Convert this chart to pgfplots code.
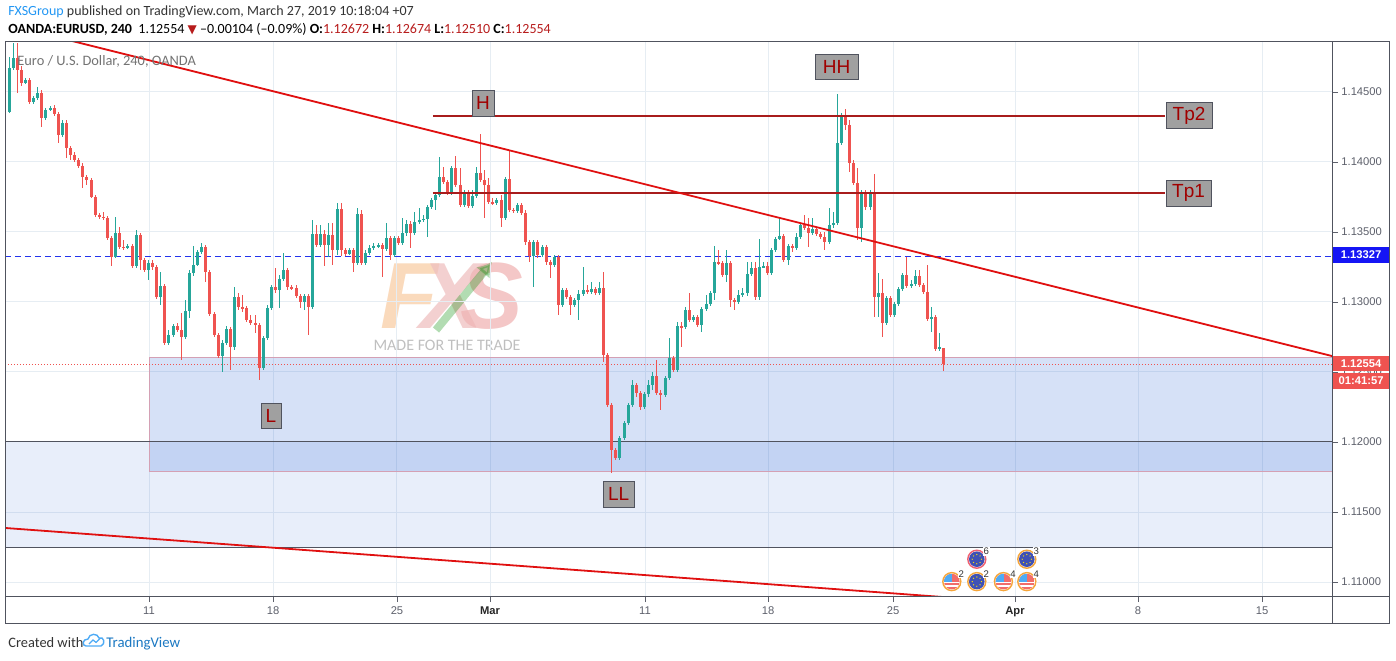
\documentclass[border=0pt]{standalone}
\usepackage{fontspec}
\setmainfont{Liberation Sans}
\newfontfamily\hdr{Carlito}
\newfontfamily\sym{DejaVu Sans}
\usepackage{pgfplots}
\usepackage{pgfplotstable}
\pgfplotsset{compat=1.18}
\usetikzlibrary{calc,arrows.meta}
\definecolor{upc}{HTML}{26A69A}
\definecolor{dnc}{HTML}{EF5350}
\definecolor{gridc}{HTML}{E6EDF3}
\definecolor{framec}{HTML}{50535E}
\definecolor{tickc}{HTML}{5D606B}
\definecolor{zonec}{HTML}{1B58D2}
\definecolor{zoneb}{HTML}{D4A0B4}
\definecolor{trendc}{HTML}{E01010}
\definecolor{tpc}{HTML}{A81C1C}
\definecolor{bluel}{HTML}{2233EE}
\definecolor{boxfill}{HTML}{A0A0A0}
\definecolor{boxtext}{HTML}{A00000}
\definecolor{hdrblue}{HTML}{2196F3}
\definecolor{valred}{HTML}{B71C1C}
\definecolor{hdrgray}{HTML}{333333}
\definecolor{lblblue}{HTML}{1515F5}
\definecolor{ringo}{HTML}{F5A53A}
\definecolor{ringr}{HTML}{F06070}
\definecolor{eublue}{HTML}{3F51B5}
\definecolor{wmF}{HTML}{F8CDA6}
\definecolor{wmS}{HTML}{F0B4B4}
\definecolor{wmX}{HTML}{EFC0C0}

\pgfplotstableread{
k o h l c
1 1.14357 1.14750 1.14350 1.14671
2 1.14671 1.14850 1.14657 1.14743
3 1.14743 1.14850 1.14493 1.14657
4 1.14657 1.14686 1.14543 1.14564
5 1.14564 1.14600 1.14557 1.14586
6 1.14586 1.14600 1.14414 1.14428
7 1.14428 1.14471 1.14414 1.14457
8 1.14457 1.14536 1.14443 1.14493
9 1.14493 1.14514 1.14250 1.14314
10 1.14314 1.14386 1.14300 1.14371
11 1.14371 1.14400 1.14364 1.14386
12 1.14386 1.14407 1.14328 1.14343
13 1.14343 1.14357 1.14136 1.14193
14 1.14193 1.14300 1.14178 1.14278
15 1.14278 1.14300 1.14028 1.14100
16 1.14100 1.14114 1.14014 1.14050
17 1.14050 1.14071 1.14000 1.14014
18 1.14014 1.14028 1.13957 1.13971
19 1.13971 1.13993 1.13814 1.13893
20 1.13893 1.13907 1.13836 1.13871
21 1.13871 1.13886 1.13743 1.13750
22 1.13750 1.13764 1.13607 1.13621
23 1.13621 1.13636 1.13593 1.13607
24 1.13607 1.13643 1.13586 1.13600
25 1.13600 1.13614 1.13443 1.13457
26 1.13457 1.13471 1.13257 1.13321
27 1.13321 1.13607 1.13314 1.13493
28 1.13493 1.13536 1.13378 1.13393
29 1.13393 1.13443 1.13371 1.13386
30 1.13386 1.13414 1.13378 1.13400
31 1.13400 1.13414 1.13243 1.13257
32 1.13257 1.13514 1.13243 1.13478
33 1.13478 1.13493 1.13228 1.13300
34 1.13300 1.13314 1.13214 1.13228
35 1.13228 1.13300 1.13157 1.13278
36 1.13278 1.13300 1.13228 1.13250
37 1.13250 1.13264 1.13021 1.13036
38 1.13036 1.13214 1.12978 1.13114
39 1.13114 1.13128 1.12693 1.12707
40 1.12707 1.12800 1.12693 1.12764
41 1.12764 1.12843 1.12750 1.12828
42 1.12828 1.12850 1.12786 1.12800
43 1.12800 1.12921 1.12586 1.12750
44 1.12750 1.13014 1.12736 1.12936
45 1.12936 1.13228 1.12886 1.13207
46 1.13207 1.13400 1.13186 1.13264
47 1.13264 1.13371 1.13257 1.13357
48 1.13357 1.13421 1.13343 1.13393
49 1.13393 1.13407 1.13143 1.13214
50 1.13214 1.13228 1.12900 1.12914
51 1.12914 1.12928 1.12750 1.12764
52 1.12764 1.12778 1.12600 1.12614
53 1.12614 1.12728 1.12500 1.12707
54 1.12707 1.12828 1.12693 1.12807
55 1.12807 1.12821 1.12514 1.12678
56 1.12678 1.13107 1.12657 1.13036
57 1.13036 1.13064 1.12943 1.12964
58 1.12964 1.13050 1.12928 1.12957
59 1.12957 1.12971 1.12857 1.12871
60 1.12871 1.12907 1.12836 1.12850
61 1.12850 1.12907 1.12778 1.12836
62 1.12836 1.12850 1.12443 1.12528
63 1.12528 1.12757 1.12514 1.12743
64 1.12743 1.12978 1.12728 1.12957
65 1.12957 1.13121 1.12943 1.13107
66 1.13107 1.13243 1.13064 1.13086
67 1.13086 1.13193 1.12957 1.13164
68 1.13164 1.13350 1.13150 1.13228
69 1.13228 1.13243 1.13086 1.13107
70 1.13107 1.13121 1.13086 1.13100
71 1.13100 1.13121 1.13028 1.13043
72 1.13043 1.13057 1.12957 1.13000
73 1.13000 1.13057 1.12943 1.13043
74 1.13043 1.13057 1.12764 1.12964
75 1.12964 1.13586 1.12950 1.13486
76 1.13486 1.13550 1.13393 1.13407
77 1.13407 1.13550 1.13393 1.13486
78 1.13486 1.13514 1.13257 1.13407
79 1.13407 1.13564 1.13321 1.13478
80 1.13478 1.13564 1.13264 1.13371
81 1.13371 1.13707 1.13336 1.13664
82 1.13664 1.13707 1.13328 1.13371
83 1.13371 1.13386 1.13328 1.13343
84 1.13343 1.13386 1.13336 1.13371
85 1.13371 1.13386 1.13214 1.13278
86 1.13278 1.13671 1.13264 1.13628
87 1.13628 1.13657 1.13264 1.13278
88 1.13278 1.13371 1.13264 1.13350
89 1.13350 1.13407 1.13336 1.13386
90 1.13386 1.13421 1.13371 1.13400
91 1.13400 1.13421 1.13386 1.13407
92 1.13407 1.13421 1.13178 1.13378
93 1.13378 1.13564 1.13364 1.13457
94 1.13457 1.13471 1.13300 1.13336
95 1.13336 1.13471 1.13321 1.13457
96 1.13457 1.13471 1.13407 1.13421
97 1.13421 1.13600 1.13407 1.13493
98 1.13493 1.13586 1.13471 1.13557
99 1.13557 1.13578 1.13386 1.13493
100 1.13493 1.13643 1.13478 1.13571
101 1.13571 1.13671 1.13557 1.13586
102 1.13586 1.13621 1.13571 1.13593
103 1.13593 1.13693 1.13464 1.13678
104 1.13678 1.13743 1.13664 1.13728
105 1.13728 1.13778 1.13657 1.13764
106 1.13764 1.14036 1.13750 1.13893
107 1.13893 1.13964 1.13843 1.13857
108 1.13857 1.13871 1.13764 1.13786
109 1.13786 1.13971 1.13764 1.13957
110 1.13957 1.14043 1.13821 1.13836
111 1.13836 1.13957 1.13678 1.13693
112 1.13693 1.13800 1.13678 1.13778
113 1.13778 1.13800 1.13671 1.13686
114 1.13686 1.13800 1.13671 1.13757
115 1.13757 1.13964 1.13743 1.13921
116 1.13921 1.14200 1.13857 1.13871
117 1.13871 1.13943 1.13600 1.13836
118 1.13836 1.13886 1.13700 1.13714
119 1.13714 1.13743 1.13693 1.13707
120 1.13707 1.13743 1.13693 1.13728
121 1.13728 1.13764 1.13536 1.13600
122 1.13600 1.13893 1.13586 1.13878
123 1.13878 1.14086 1.13643 1.13657
124 1.13657 1.13671 1.13636 1.13650
125 1.13650 1.13707 1.13636 1.13693
126 1.13693 1.13707 1.13621 1.13636
127 1.13636 1.13657 1.13407 1.13428
128 1.13428 1.13443 1.13286 1.13328
129 1.13328 1.13443 1.13107 1.13428
130 1.13428 1.13443 1.13314 1.13336
131 1.13336 1.13407 1.13321 1.13393
132 1.13393 1.13407 1.13264 1.13286
133 1.13286 1.13300 1.13171 1.13264
134 1.13264 1.13336 1.13250 1.13321
135 1.13321 1.13336 1.12907 1.12978
136 1.12978 1.13100 1.12964 1.13086
137 1.13086 1.13100 1.13021 1.13036
138 1.13036 1.13050 1.12907 1.12978
139 1.12978 1.13028 1.12964 1.13014
140 1.13014 1.13086 1.12871 1.13057
141 1.13057 1.13250 1.13043 1.13086
142 1.13086 1.13121 1.13057 1.13071
143 1.13071 1.13143 1.13057 1.13093
144 1.13093 1.13107 1.13050 1.13064
145 1.13064 1.13143 1.13050 1.13100
146 1.13100 1.13214 1.12571 1.12621
147 1.12621 1.12636 1.12250 1.12264
148 1.12264 1.12278 1.11778 1.11943
149 1.11943 1.11957 1.11871 1.11886
150 1.11886 1.12043 1.11871 1.12028
151 1.12028 1.12150 1.12014 1.12136
152 1.12136 1.12278 1.12121 1.12264
153 1.12264 1.12443 1.12250 1.12407
154 1.12407 1.12421 1.12321 1.12350
155 1.12350 1.12364 1.12228 1.12250
156 1.12250 1.12357 1.12236 1.12343
157 1.12343 1.12443 1.12321 1.12407
158 1.12407 1.12500 1.12371 1.12471
159 1.12471 1.12586 1.12336 1.12350
160 1.12350 1.12371 1.12228 1.12336
161 1.12336 1.12471 1.12321 1.12457
162 1.12457 1.12743 1.12443 1.12600
163 1.12600 1.12614 1.12500 1.12514
164 1.12514 1.12857 1.12500 1.12828
165 1.12828 1.12857 1.12678 1.12821
166 1.12821 1.12964 1.12807 1.12943
167 1.12943 1.13064 1.12857 1.12871
168 1.12871 1.12907 1.12857 1.12893
169 1.12893 1.12907 1.12821 1.12836
170 1.12836 1.12964 1.12786 1.12950
171 1.12950 1.13050 1.12936 1.12986
172 1.12986 1.13078 1.12971 1.13064
173 1.13064 1.13400 1.13014 1.13286
174 1.13286 1.13371 1.13264 1.13278
175 1.13278 1.13293 1.13178 1.13193
176 1.13193 1.13371 1.13143 1.13278
177 1.13278 1.13293 1.12964 1.13014
178 1.13014 1.13028 1.12943 1.13000
179 1.13000 1.13086 1.12986 1.13050
180 1.13050 1.13100 1.13036 1.13064
181 1.13064 1.13286 1.13043 1.13200
182 1.13200 1.13286 1.13186 1.13243
183 1.13243 1.13286 1.13014 1.13036
184 1.13036 1.13450 1.13014 1.13250
185 1.13250 1.13286 1.13243 1.13257
186 1.13257 1.13286 1.13193 1.13207
187 1.13207 1.13386 1.13193 1.13371
188 1.13371 1.13464 1.13357 1.13450
189 1.13450 1.13600 1.13443 1.13471
190 1.13471 1.13486 1.13286 1.13300
191 1.13300 1.13414 1.13264 1.13400
192 1.13400 1.13414 1.13357 1.13386
193 1.13386 1.13493 1.13371 1.13464
194 1.13464 1.13564 1.13450 1.13550
195 1.13550 1.13621 1.13514 1.13528
196 1.13528 1.13600 1.13393 1.13493
197 1.13493 1.13600 1.13478 1.13521
198 1.13521 1.13536 1.13471 1.13486
199 1.13486 1.13500 1.13450 1.13464
200 1.13464 1.13500 1.13371 1.13428
201 1.13428 1.13671 1.13414 1.13550
202 1.13550 1.13643 1.13528 1.13564
203 1.13564 1.14486 1.13550 1.14136
204 1.14136 1.14350 1.14121 1.14321
205 1.14321 1.14378 1.14228 1.14264
206 1.14264 1.14300 1.13928 1.13993
207 1.13993 1.14014 1.13836 1.13850
208 1.13850 1.13957 1.13443 1.13528
209 1.13528 1.13800 1.13428 1.13778
210 1.13778 1.13800 1.13657 1.13678
211 1.13678 1.13800 1.13657 1.13778
212 1.13778 1.13914 1.12893 1.13036
213 1.13036 1.13207 1.12893 1.13064
214 1.13064 1.13164 1.12750 1.12850
215 1.12850 1.13043 1.12836 1.13028
216 1.13028 1.13043 1.12893 1.12907
217 1.12907 1.13000 1.12893 1.12986
218 1.12986 1.13107 1.12971 1.13093
219 1.13093 1.13207 1.13078 1.13193
220 1.13193 1.13321 1.13100 1.13114
221 1.13114 1.13157 1.13100 1.13128
222 1.13128 1.13228 1.13114 1.13186
223 1.13186 1.13228 1.13107 1.13121
224 1.13121 1.13136 1.13057 1.13071
225 1.13071 1.13264 1.12864 1.12878
226 1.12878 1.12964 1.12786 1.12893
227 1.12893 1.12907 1.12650 1.12664
228 1.12664 1.12778 1.12650 1.12678
229 1.12672 1.12674 1.12510 1.12554
}\candles

\newcommand{\usicon}[3]{%
  \fill[white] (#1,#2) circle (5.2);
  \begin{scope}\clip (#1,#2) circle (3.9);
    \fill[dnc!85] (#1-4.2,#2-4.2) rectangle (#1+4.2,#2+4.2);
    \fill[white] (#1-4.2,#2-0.9) rectangle (#1+4.2,#2-0.1);
    \fill[white] (#1-4.2,#2-2.5) rectangle (#1+4.2,#2-1.7);
    \fill[hdrblue!80] (#1-4.2,#2) rectangle (#1+0.3,#2+4.2);
  \end{scope}
  \draw[ringo, line width=0.7pt] (#1,#2) circle (4.5);
  \node[font=\fontsize{4.8}{5}\selectfont, fill=white, inner sep=0.4pt, text=hdrgray] at (#1+4.8,#2+3.8) {#3};}
\newcommand{\euicon}[4]{%
  \fill[white] (#1,#2) circle (5.2);
  \fill[eublue] (#1,#2) circle (3.9);
  \foreach \a in {0,45,...,315} \fill[yellow!80!orange] ($(#1,#2)+(\a:2.3)$) circle (0.35);
  \draw[#4, line width=0.7pt] (#1,#2) circle (4.5);
  \node[font=\fontsize{4.8}{5}\selectfont, fill=white, inner sep=0.4pt, text=hdrgray] at (#1+4.8,#2+3.8) {#3};}

\begin{document}
\begin{tikzpicture}[x=1pt,y=1pt]
\useasboundingbox (0,0) rectangle (698,330);
% header
\node[anchor=base west, inner sep=0pt, font=\hdr\fontsize{7}{8}\selectfont, text=hdrgray] at (4,322) {\textcolor{hdrblue}{FXSGroup} published on TradingView.com, March 27, 2019 10:18:04 +07};
\node[anchor=base west, inner sep=0pt, font=\hdr\fontsize{7}{8}\selectfont, text=black] at (4,313) {\textbf{OANDA:EURUSD, 240}\ \ 1.12554 {\sym\color{valred}\fontsize{6}{6}\selectfont ▼} –0.00104 (–0.09\%) \textbf{O:}\textcolor{valred}{1.12672} \textbf{H:}\textcolor{valred}{1.12674} \textbf{L:}\textcolor{valred}{1.12510} \textbf{C:}\textcolor{valred}{1.12554}};
% watermark
\node[font=\fontsize{47}{47}\selectfont\bfseries\itshape, inner sep=0pt, text depth=0pt, anchor=base, opacity=0.75] at (226,166) {\textcolor{wmF}{F}\kern-9pt\textcolor{wmX}{X}\kern-11pt\textcolor{wmS}{S}};
\draw[green!55!black, opacity=0.3, line width=4pt, -{Latex[length=7pt,width=9pt]}] (218,165) -- (246,199);
\node[font=\hdr\fontsize{8}{8}\selectfont, text=black!25, inner sep=0pt] at (223.5,157.5) {MADE FOR THE TRADE};
\begin{axis}[
  at={(2.5pt,32pt)}, anchor=south west,
  scale only axis, width=663.5pt, height=277pt,
  xmin=0.0244, xmax=323.68, ymin=1.10900, ymax=1.14857,
  axis line style={draw=none},
  xtick={35.146,65.39,95.63,118.32,156.12,186.12,216.61,246.37,276.37,306.61},
  xticklabels={11,18,25,\textcolor{black!85}{\textbf{Mar}},11,18,25,\textcolor{black!85}{\textbf{Apr}},8,15},
  ytick={1.110,1.115,1.120,1.125,1.130,1.135,1.140,1.145},
  xtick pos=left, ytick pos=right, yticklabel pos=right,
  scaled y ticks=false,
  yticklabel style={/pgf/number format/fixed, /pgf/number format/fixed zerofill, /pgf/number format/precision=5, /pgf/number format/assume math mode=true, anchor=west, inner sep=0pt, xshift=1.5pt},
  xticklabel style={anchor=north, inner sep=0pt, yshift=-2pt},
  ticklabel style={font=\fontsize{5.6}{6}\selectfont, text=tickc},
  grid=major, grid style={gridc, line width=0.5pt},
  tick align=outside, major tick length=3pt,
  tick style={tickc, line width=0.4pt},
  clip=true,
]
% zones
\addplot[draw=none, fill=zonec, fill opacity=0.10, forget plot] coordinates {(0.0244,1.12000) (330,1.12000) (330,1.11243) (0.0244,1.11243)} -- cycle;
\addplot[draw=zoneb, line width=0.5pt, fill=zonec, fill opacity=0.18, forget plot] coordinates {(35.15,1.12600) (330,1.12600) (330,1.11786) (35.15,1.11786)} -- cycle;
\addplot[draw=framec, line width=0.5pt, forget plot] coordinates {(0,1.12000) (330,1.12000)};
\addplot[draw=framec, line width=0.5pt, forget plot] coordinates {(0,1.11243) (330,1.11243)};
% price lines
\addplot[bluel, dash pattern=on 3pt off 2pt, line width=0.5pt, forget plot] coordinates {(0,1.13327) (330,1.13327)};
\addplot[dnc, dash pattern=on 0.5pt off 1pt, line width=0.4pt, forget plot] coordinates {(0,1.12554) (330,1.12554)};
% candles: wicks and bodies
\addplot[draw=none, mark=none, forget plot, restrict y to domain=1:2,
  error bars/.cd, y dir=both, y explicit, error mark=none,
  error bar style={draw=upc, line width=0.5pt, solid}]
  table[x=k, y expr={\thisrow{c}<\thisrow{o} ? 0 : 0.5*(\thisrow{h}+\thisrow{l})}, y error expr={0.5*(\thisrow{h}-\thisrow{l})}] {\candles};
\addplot[draw=none, mark=none, forget plot, restrict y to domain=1:2,
  error bars/.cd, y dir=both, y explicit, error mark=none,
  error bar style={draw=upc, line width=1.5pt, solid}]
  table[x=k, y expr={\thisrow{c}<\thisrow{o} ? 0 : 0.5*(\thisrow{o}+\thisrow{c})}, y error expr={max(0.5*abs(\thisrow{c}-\thisrow{o}),0.000015)}] {\candles};
\addplot[draw=none, mark=none, forget plot, restrict y to domain=1:2,
  error bars/.cd, y dir=both, y explicit, error mark=none,
  error bar style={draw=dnc, line width=0.5pt, solid}]
  table[x=k, y expr={\thisrow{c}<\thisrow{o} ? 0.5*(\thisrow{h}+\thisrow{l}) : 0}, y error expr={0.5*(\thisrow{h}-\thisrow{l})}] {\candles};
\addplot[draw=none, mark=none, forget plot, restrict y to domain=1:2,
  error bars/.cd, y dir=both, y explicit, error mark=none,
  error bar style={draw=dnc, line width=1.5pt, solid}]
  table[x=k, y expr={\thisrow{c}<\thisrow{o} ? 0.5*(\thisrow{o}+\thisrow{c}) : 0}, y error expr={max(0.5*abs(\thisrow{c}-\thisrow{o}),0.000015)}] {\candles};
% target lines
\addplot[tpc, line width=1pt, forget plot] coordinates {(104.4,1.14329) (282.95,1.14329)};
\addplot[tpc, line width=1pt, forget plot] coordinates {(104.4,1.13779) (282.95,1.13779)};
% trend lines
\addplot[trendc, line width=0.9pt, forget plot] coordinates {(0.0244,1.14984) (323.68,1.12614)};
\addplot[trendc, line width=0.9pt, forget plot] coordinates {(0.0244,1.11386) (250,1.10847)};
\end{axis}
% frame
\draw[framec, line width=0.5pt] (2.5,18.5) rectangle (694.5,309);
\draw[framec, line width=0.5pt] (666,18.5) -- (666,309);
\draw[framec, line width=0.5pt] (2.5,32) -- (694.5,32);
% price labels
\node[fill=lblblue, text=white, font=\bfseries\fontsize{5.6}{6}\selectfont, minimum width=28.3pt, minimum height=8pt, inner sep=0pt, anchor=west] at (666.2,202.5) {1.13327};
\node[fill=dnc, text=white, font=\bfseries\fontsize{5.6}{6}\selectfont, minimum width=28.3pt, minimum height=7.6pt, inner sep=0pt, anchor=west] at (666.2,148.3) {1.12554};
\node[fill=dnc, text=white, font=\bfseries\fontsize{5.6}{6}\selectfont, minimum width=28.3pt, minimum height=8pt, inner sep=0pt, anchor=west] at (666.2,139.5) {01:41:57};
% annotations
\tikzset{ann/.style={draw=framec, line width=0.5pt, fill=boxfill, text=boxtext, font=\fontsize{9.5}{10}\selectfont, minimum height=12.8pt, inner sep=0.5pt}}
\node[ann, minimum width=11pt] at (241.5,278.3) {H};
\node[ann, minimum width=21.5pt] at (418.3,296.5) {HH};
\node[ann, minimum width=23pt] at (594.5,272.3) {Tp2};
\node[ann, minimum width=22.5pt] at (594.3,233.3) {Tp1};
\node[ann, minimum width=10pt] at (135.5,122) {L};
\node[ann, minimum width=15.5pt] at (309.3,82.8) {LL};
\node[anchor=base west, inner sep=0pt, font=\hdr\fontsize{7.2}{8}\selectfont, text=black!55] at (8.5,297.2) {Euro / U.S. Dollar, 240, OANDA};
% event icons
\usicon{475.9}{39.2}{2}
\euicon{488.4}{39.2}{2}{ringo}
\usicon{501.7}{39.2}{4}
\usicon{513.4}{39.2}{4}
\euicon{488.4}{50.4}{6}{ringr}
\euicon{513.4}{50.4}{3}{ringo}
% footer
\node[anchor=base west, inner sep=0pt, font=\hdr\fontsize{7.2}{8}\selectfont, text=hdrgray] at (4,6.5) {Created with};
\draw[hdrblue!80, line width=0.7pt] (43,7) .. controls (41,7) and (41,10.5) .. (44,10.5) .. controls (44.5,13.5) and (49,13.5) .. (49.5,11) .. controls (52,12) and (53,8) .. (50.5,7) -- cycle;
\draw[hdrblue!80, line width=0.6pt] (44.5,8) -- (46.5,10) -- (48,8.8) -- (50,10.8);
\node[anchor=base west, inner sep=0pt, font=\hdr\fontsize{7.4}{8}\selectfont, text=hdrblue!80!black] at (53,6.5) {TradingView};
\end{tikzpicture}
\end{document}
